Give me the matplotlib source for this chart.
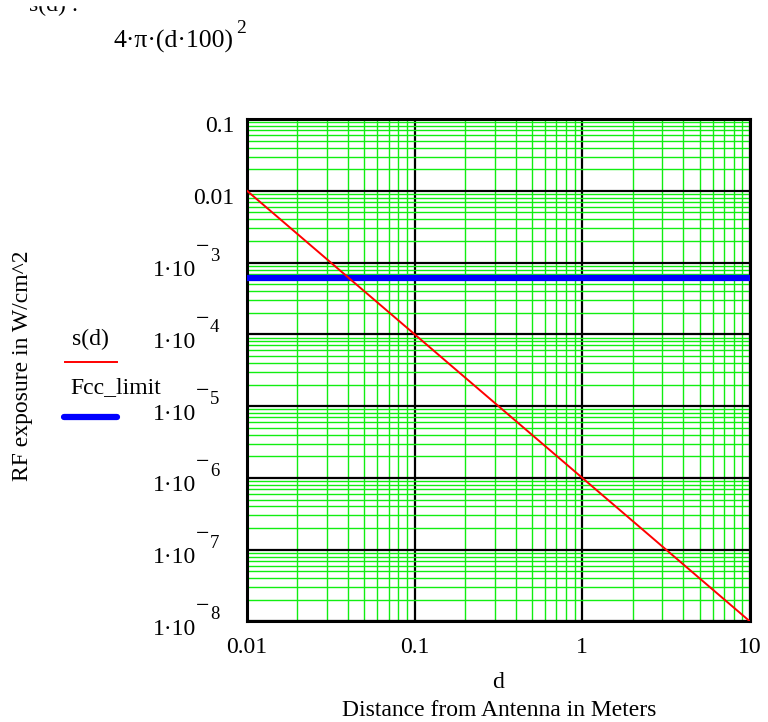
import matplotlib
matplotlib.use("Agg")
import matplotlib.pyplot as plt
from matplotlib.ticker import FixedLocator, FixedFormatter, LogLocator, NullFormatter
from matplotlib.transforms import offset_copy

plt.rcParams['font.family'] = ['Liberation Serif', 'DejaVu Serif']

# distance (m) and power density s(d) (W/cm^2)
d_vals = [0.01, 0.03, 0.1, 0.3, 1, 3, 10]
s_vals = [1.0e-2, 1.11e-3, 1.0e-4, 1.11e-5, 1.0e-6, 1.11e-7, 1.0e-8]

# FCC limit (W/cm^2)
fcc_d = [0.01, 10]
fcc_limit = [6.1e-4, 6.1e-4]

x_ticks = [0.01, 0.1, 1, 10]
x_labels = ["0.01", "0.1", "1", "10"]
y_ticks = [1e-1, 1e-2, 1e-3, 1e-4, 1e-5, 1e-6, 1e-7, 1e-8]
y_base = ["0.1", "0.01", "1·10", "1·10", "1·10", "1·10", "1·10", "1·10"]
y_exp = ["", "", "3", "4", "5", "6", "7", "8"]

FS = 17

fig = plt.figure(figsize=(7.68, 7.22), dpi=100)
ax = fig.add_axes([0.3216, 0.1392, 0.655, 0.696])

ax.set_xscale('log')
ax.set_yscale('log')
ax.set_xlim(0.01, 10)
ax.set_ylim(1e-8, 0.1)

# grid: green minor, black major
ax.xaxis.set_major_locator(FixedLocator(x_ticks))
ax.xaxis.set_major_formatter(FixedFormatter(x_labels))
ax.yaxis.set_major_locator(FixedLocator(y_ticks))
ax.yaxis.set_major_formatter(NullFormatter())
ax.xaxis.set_minor_locator(LogLocator(base=10, subs=range(2, 10), numticks=20))
ax.yaxis.set_minor_locator(LogLocator(base=10, subs=range(2, 10), numticks=20))
ax.xaxis.set_minor_formatter(NullFormatter())
ax.yaxis.set_minor_formatter(NullFormatter())
ax.grid(which='minor', color='#11ee11', lw=1.0)
ax.grid(which='major', color='black', lw=1.6)
ax.set_axisbelow(True)
ax.tick_params(which='both', length=0)
ax.tick_params(axis='x', labelsize=FS, pad=11)
for sp in ax.spines.values():
    sp.set_linewidth(2.2)

ax.plot(fcc_d, fcc_limit, color='#0000ff', lw=4.5, solid_capstyle='butt', zorder=3)
ax.plot(d_vals, s_vals, color='#ff0000', lw=1.4, zorder=4)

# y tick labels in worksheet style: base, raised minus, exponent digit
ytr = ax.get_yaxis_transform()
for v, b, e in zip(y_ticks, y_base, y_exp):
    if e:
        ax.text(0, v, b, fontsize=FS, ha='right', va='baseline',
                transform=offset_copy(ytr, fig=fig, x=-51, y=-13.5, units='dots'))
        ax.text(0, v, "\u2212", fontsize=17, ha='left', va='baseline',
                transform=offset_copy(ytr, fig=fig, x=-51, y=9.5, units='dots'))
        ax.text(0, v, e, fontsize=13.5, ha='left', va='baseline',
                transform=offset_copy(ytr, fig=fig, x=-37, y=2, units='dots'))
    else:
        ax.text(0, v, b, fontsize=FS, ha='right', va='baseline',
                transform=offset_copy(ytr, fig=fig, x=-12.5, y=-13.5, units='dots'))

# formula at top (top line cut off, as in the worksheet)
fig.text(29 / 768, 1 - 11 / 722, "s(d) :", fontsize=FS, va='baseline')
fig.text(114 / 768, 1 - 48 / 722, "4·π·(d·100)", fontsize=18.5, va='baseline')
fig.text(236 / 768, 1 - 33 / 722, "2", fontsize=14, va='baseline')
fig.add_artist(plt.Rectangle((0, 1 - 5 / 722), 1, 5 / 722, color='white',
                             transform=fig.transFigure, zorder=10))

# axis titles
fig.text(23 / 768, 1 - 366 / 722, "RF exposure in W/cm^2", fontsize=FS,
         rotation=90, ha='center', va='center')
fig.text(498 / 768, 1 - 683 / 722, "d", fontsize=FS, ha='center', va='center')
fig.text(499 / 768, 1 - 711 / 722, "Distance from Antenna in Meters", fontsize=FS,
         ha='center', va='center')

# legend, left of plot
fig.text(90 / 768, 1 - 339 / 722, "s(d)", fontsize=FS, ha='center', va='center')
fig.add_artist(plt.Line2D([65 / 768, 117 / 768], [1 - 362 / 722, 1 - 362 / 722],
                          color='#ff0000', lw=1.4, transform=fig.transFigure))
fig.text(70 / 768, 1 - 388 / 722, "Fcc_limit", fontsize=FS, ha='left', va='center')
fig.add_artist(plt.Line2D([64 / 768, 117 / 768], [1 - 417 / 722, 1 - 417 / 722],
                          color='#0000ff', lw=4.5, solid_capstyle='round',
                          transform=fig.transFigure))

fig.savefig("out.png", dpi=100)
